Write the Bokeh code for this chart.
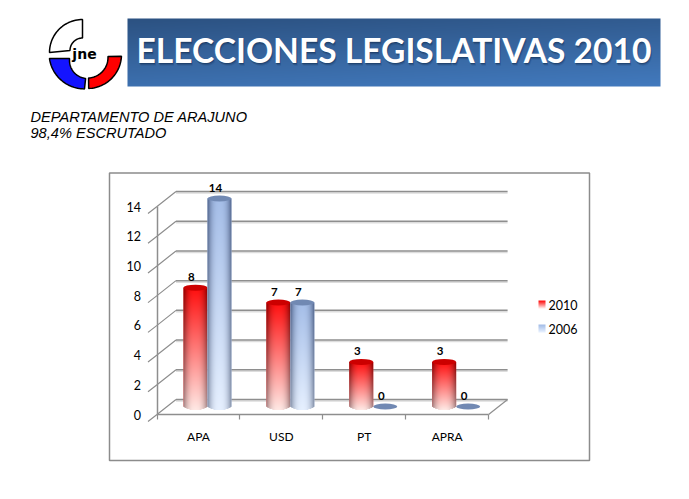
import numpy as np
from bokeh.core.properties import value
from bokeh.embed import file_html
from bokeh.models import FixedTicker, LinearAxis, Range1d
from bokeh.plotting import figure
from bokeh.resources import INLINE

categories = ["APA", "USD", "PT", "APRA"]
votes_2010 = [8, 7, 3, 3]
votes_2006 = [14, 7, 0, 0]
y_ticks = [0, 2, 4, 6, 8, 10, 12, 14]
title_text = "ELECCIONES LEGISLATIVAS 2010"
subtitle_lines = ["DEPARTAMENTO DE ARAJUNO", "98,4% ESCRUTADO"]

W, H = 673, 483
CAT_W = 82.9
UNIT = 14.857
FX0 = 156.5            # front-left corner of the floor, picture px
FY0 = 414.0            # front floor line, picture px
DX, DY = 19.0, 15.0    # depth of the 3D box
FONT = "Lato"


def y_range(sy0):
    return Range1d((sy0 - H) / UNIT, sy0 / UNIT)


def x_range(sx0):
    # category boundary 0 sits at picture px sx0
    return Range1d(-sx0 / CAT_W, (W - sx0) / CAT_W)


p = figure(width=W, height=H, output_backend="svg", toolbar_location=None,
           x_range=x_range(FX0), y_range=y_range(FY0),
           min_border=0, min_border_left=0, min_border_right=0,
           min_border_top=0, min_border_bottom=0,
           x_axis_location=None, y_axis_location=None, outline_line_color=None)
p.grid.visible = False
p.extra_x_ranges = {"mid": x_range(FX0 + 9.0), "back": x_range(FX0 + DX),
                    "px": Range1d(0, W)}
p.extra_y_ranges = {"mid": y_range(FY0 - 8.0), "back": y_range(FY0 - DY),
                    "shadow": y_range(FY0 - DY + 1.5),
                    "px": Range1d(H, 0)}
PX = dict(x_range_name="px", y_range_name="px")
MID = dict(x_range_name="mid", y_range_name="mid")

# ---------- chart box
p.quad(left=[109], right=[589], top=[172.5], bottom=[460], fill_color="white",
       line_color="#8c8c8c", line_width=1.5, **PX)

# ---------- banner
bh, bw = 68, 533
yy, xx = np.mgrid[0:bh, 0:bw]
t = (0.75 * yy / (bh - 1) + 0.25 * xx / (bw - 1))
c0, c1 = np.array([44, 82, 130]), np.array([66, 122, 190])
rgb = c0 + (c1 - c0) * t[..., None]
img = np.dstack([rgb, np.full((bh, bw), 255)]).astype(np.uint8)
img32 = img.view(np.uint32).reshape(bh, bw)
p.image_rgba(image=[img32], x=[127], y=[18], dw=[bw], dh=[bh], **PX)
TITLE_SIZE = "33.6px"
for off, alpha in ((3, 0.10), (2, 0.20), (1, 0.35)):
    p.text(x=[136 + off * 0.5], y=[49 + off], text=[title_text], text_color="#0d2342", text_alpha=alpha,
           text_font=value(FONT), text_font_style="bold", text_font_size=TITLE_SIZE,
           text_baseline="middle", **PX)
p.text(x=[136], y=[49], text=[title_text], text_color="white",
       text_font=value(FONT), text_font_style="bold", text_font_size=TITLE_SIZE,
       text_baseline="middle", **PX)


# ---------- logo
def arc(cx, cy, r, a0, a1, n=30):
    a = np.radians(np.linspace(a0, a1, n))
    return cx + r * np.cos(a), cy - r * np.sin(a)


def ring(oc, ro, ic, ri, a0, a1, b0, b1):
    ox, oy = arc(oc[0], oc[1], ro, a0, a1)
    ix, iy = arc(ic[0], ic[1], ri, b0, b1)
    return list(np.r_[ox, ix]), list(np.r_[oy, iy])


bx, by = ring((84, 53), 35.4, (87, 60), 18, 188, 270, 264, 174)
p.patch(bx, by, fill_color="#1414ff", line_color="black", line_width=1.5, **PX)
rx, ry = ring((87, 54), 34, (87, 57), 20.5, 272, 357, 363, 273)
p.patch(rx, ry, fill_color="#ff0000", line_color="black", line_width=1.5, **PX)
wx, wy = ring((82, 52), 33, (82, 50), 12.5, 180, 90, 90, 180)
p.patch(wx, wy, fill_color="white", line_color="black", line_width=1.5, **PX)
p.text(x=[84], y=[53], text=["jne"], text_color="black", text_align="center", text_baseline="middle",
       text_font=value("DejaVu Sans"), text_font_style="bold", text_font_size="14px", **PX)

# ---------- subtitle
for line, sy in zip(subtitle_lines, (116, 132)):
    p.text(x=[30], y=[sy], text=[line], text_color="black", text_baseline="middle",
           text_font=value("Liberation Sans"), text_font_style="italic", text_font_size="14.6px", **PX)

# ---------- 3D walls and gridlines, drawn from the y ticks
GRID = "#8e8e8e"
n = len(categories)
p.segment(x0=[0] * len(y_ticks), x1=[n] * len(y_ticks), y0=y_ticks, y1=y_ticks,
          line_color="#dddddd", line_width=1.5, x_range_name="back", y_range_name="shadow")
p.segment(x0=[0] * len(y_ticks), x1=[n] * len(y_ticks), y0=y_ticks, y1=y_ticks,
          line_color=GRID, line_width=1.5, x_range_name="back", y_range_name="back")
# depth diagonals: px offset between the two planes
for v in y_ticks:
    sy = FY0 - v * UNIT
    p.line([FX0 - 9, FX0, FX0 + DX], [sy + 7, sy, sy - DY], line_color=GRID, line_width=1.2, **PX)
p.line([FX0 + n * CAT_W, FX0 + n * CAT_W + DX], [FY0, FY0 - DY], line_color=GRID, line_width=1.2, **PX)


# ---------- cylinders
def shade(top, bot, edge_t, edge_b, h, w=24, rounded=True, flip=True):
    yy = np.linspace(0, 1, h)[:, None, None]
    u = np.linspace(-1, 1, w)[None, :, None]
    k = np.clip(np.abs(u) ** 2.6, 0, 1)
    base = np.array(top)[None, None, :] * (1 - yy) + np.array(bot)[None, None, :] * yy
    edge = np.array(edge_t)[None, None, :] * (1 - yy) + np.array(edge_b)[None, None, :] * yy
    col = base * (1 - k) + edge * k
    alpha = np.full((h, w, 1), 255.0)
    if rounded:
        for row in range(h):
            below = row - (h - 4)
            if below > 0:
                half = np.sqrt(max(0, 1 - (below / 3.5) ** 2))
                alpha[row, np.abs(u[0, :, 0]) > half, 0] = 0
    out = np.concatenate([col, alpha], axis=2).astype(np.uint8)
    out = out.view(np.uint32).reshape(h, w)
    return out[::-1] if flip else out


BAR_PX = 24.0
BAR_W = BAR_PX / CAT_W
STYLE = {
    "2010": dict(top=(255, 15, 15), bot=(255, 232, 228), edge_t=(150, 0, 0), edge_b=(170, 140, 140),
                 cap="#cc0000", flat="#ff6060"),
    "2006": dict(top=(165, 190, 232), bot=(230, 240, 255), edge_t=(88, 108, 148), edge_b=(140, 152, 175),
                 cap="#7189b3", flat="#c4d6f2"),
}
BELOW = 3.5 / UNIT

for series, vals, shift in (("2010", votes_2010, -12.0), ("2006", votes_2006, 12.0)):
    st = STYLE[series]
    xs = [i + 0.5 + shift / CAT_W for i in range(n)]
    p.vbar(x=xs, top=vals, bottom=0, width=BAR_W, fill_color=st["flat"], line_color=None, **MID)
    for x, v in zip(xs, vals):
        if v > 0:
            hpx = int(round(v * UNIT + 3.5))
            im = shade(st["top"], st["bot"], st["edge_t"], st["edge_b"], hpx)
            p.image_rgba(image=[im], x=[x - BAR_W / 2], y=[-BELOW], dw=[BAR_W], dh=[v + BELOW], **MID)
    p.ellipse(x=xs, y=vals, width=BAR_W, height=6.0 / UNIT, fill_color=st["cap"], line_color=None, **MID)
    p.text(x=[x - 4 / CAT_W for x in xs], y=vals, text=[str(v) for v in vals], text_color="black",
           text_align="center", text_baseline="middle", y_offset=-11,
           text_font=value(FONT), text_font_style="bold", text_font_size="11.5px", **MID)

# ---------- axes
yax = LinearAxis(fixed_location=0, ticker=FixedTicker(ticks=y_ticks), bounds=(0, 14),
                 axis_line_color=GRID, axis_line_width=1.5, major_tick_line_color=None, minor_tick_line_color=None,
                 major_label_text_font=FONT, major_label_text_font_size="12.5px",
                 major_label_text_color="black", major_label_standoff=10)
p.add_layout(yax, "left")
xax = LinearAxis(fixed_location=0, ticker=FixedTicker(ticks=list(range(n + 1))), bounds=(0, n),
                 major_label_overrides={i: "" for i in range(n + 1)},
                 axis_line_color=GRID, axis_line_width=1.5, major_tick_line_color=GRID, major_tick_line_width=1.2,
                 major_tick_in=0, major_tick_out=5, minor_tick_line_color=None)
p.add_layout(xax, "below")
lab = LinearAxis(fixed_location=0, ticker=FixedTicker(ticks=[i + 0.5 for i in range(n)]),
                 major_label_overrides={i + 0.5: c for i, c in enumerate(categories)},
                 axis_line_color=None, major_tick_line_color=None, minor_tick_line_color=None,
                 major_label_text_font=FONT, major_label_text_font_size="12px",
                 major_label_text_color="black", major_label_standoff=8)
p.add_layout(lab, "below")

# ---------- legend
for label, sy, key in (("2010", 304, "2010"), ("2006", 328, "2006")):
    st = STYLE[key]
    sw = shade(st["top"], st["bot"], st["top"], st["bot"], 8, 7, rounded=False, flip=False)
    p.image_rgba(image=[sw], x=[538], y=[sy - 4], dw=[7], dh=[8], **PX)
    p.text(x=[548], y=[sy], text=[label], text_color="black", text_baseline="middle",
           text_font=value(FONT), text_font_size="12.5px", **PX)

open("out.html", "w").write(file_html(p, INLINE))
